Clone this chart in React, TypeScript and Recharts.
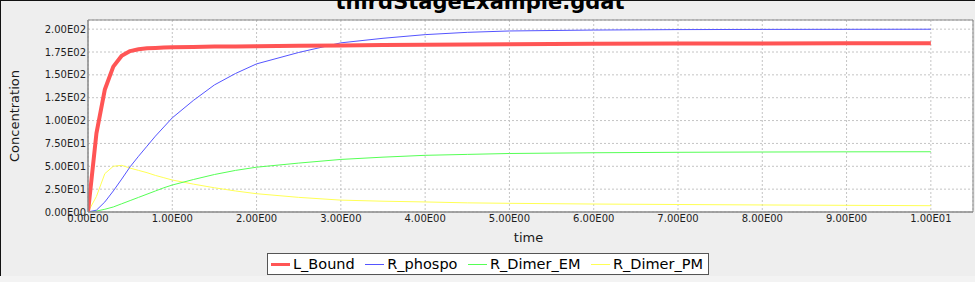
import React from 'react';
import { LineChart, Line, XAxis, YAxis, CartesianGrid, ReferenceLine } from 'recharts';

const time = [0, 0.1, 0.2, 0.3, 0.4, 0.5, 0.6, 0.7, 0.8, 0.9, 1.0, 1.25, 1.5, 1.75, 2, 2.5, 3, 3.5, 4, 4.5, 5, 6, 7, 8, 9, 10];
const lBound = [0, 86, 134, 159, 171, 176, 178, 179, 179.5, 180, 180.3, 180.6, 180.9, 181.1, 181.3, 181.8, 182.2, 182.6, 183, 183.2, 183.5, 183.9, 184.2, 184.4, 184.6, 184.7];
const rPhospo = [0, 2, 11, 23, 36, 49.5, 61, 72, 83, 93, 103, 122, 139, 151.5, 162, 174.5, 185, 190, 194, 196.5, 198, 199, 199.5, 199.7, 199.8, 199.9];
const rDimerEM = [0, 1, 3, 5.5, 9, 12.5, 16, 19.5, 23, 26.5, 29.5, 35.5, 41, 45.5, 49, 53.5, 57.5, 60, 62, 63, 64, 64.8, 65.3, 65.6, 65.8, 65.9];
const rDimerPM = [0, 17, 42, 50, 51, 48, 45.5, 43, 40, 37.5, 35, 30.5, 26.5, 23, 20, 16, 13, 11.8, 11, 10, 9.5, 8.7, 8.2, 7.7, 7.3, 6.9];

const xTicks = [0, 1, 2, 3, 4, 5, 6, 7, 8, 9, 10];
const xTickLabels = ['0.00E00', '1.00E00', '2.00E00', '3.00E00', '4.00E00', '5.00E00', '6.00E00', '7.00E00', '8.00E00', '9.00E00', '1.00E01'];
const yTicks = [0, 25, 50, 75, 100, 125, 150, 175, 200];
const yTickLabels = ['0.00E00', '2.50E01', '5.00E01', '7.50E01', '1.00E02', '1.25E02', '1.50E02', '1.75E02', '2.00E02'];

const seriesKeys = ['L_Bound', 'R_phospo', 'R_Dimer_EM', 'R_Dimer_PM'];
const seriesValues = [lBound, rPhospo, rDimerEM, rDimerPM];
const seriesColors = ['#ff5555', '#5555ff', '#55ff55', '#ffff55'];
const seriesWidths = [4, 1, 1, 1];

const titleText = 'thirdStageExample.gdat';
const xLabel = 'time';
const yLabel = 'Concentration';

const data = time.map((t, i) => {
  const row: Record<string, number> = { t };
  seriesKeys.forEach((k, j) => {
    row[k] = seriesValues[j][i];
  });
  return row;
});

const FONT = '"DejaVu Sans", Verdana, sans-serif';

const fmtX = (v: number) => {
  const i = xTicks.indexOf(v);
  return i >= 0 ? xTickLabels[i] : String(v);
};
const fmtY = (v: number) => {
  const i = yTicks.indexOf(v);
  return i >= 0 ? yTickLabels[i] : String(v);
};

const YLabel = (props: any) => {
  const vb = props && props.viewBox ? props.viewBox : { x: 0, y: 20, width: 88, height: 192 };
  const x = vb.x + 19;
  const y = vb.y + vb.height / 2;
  return (
    <text x={x} y={y} transform={`rotate(-90, ${x}, ${y})`} textAnchor="middle" fontFamily={FONT} fontSize={13} fill="#1a1a1a">
      {yLabel}
    </text>
  );
};

const XLabel = (props: any) => {
  const vb = props && props.viewBox ? props.viewBox : { x: 88, y: 212, width: 885, height: 70 };
  const x = vb.x + vb.width / 2 - 2;
  const y = vb.y + 29.5;
  return (
    <text x={x} y={y} textAnchor="middle" fontFamily={FONT} fontSize={13} fill="#1a1a1a">
      {xLabel}
    </text>
  );
};

export default function App() {
  const drawOrder = [3, 2, 1, 0];
  return (
    <div style={{ position: 'absolute', left: 0, top: 0, width: 975, height: 282, background: '#eeeeee', overflow: 'hidden' }}>
      <div style={{ position: 'absolute', left: 0, top: 0, width: 975, height: 1, background: '#111' }} />
      <div style={{ position: 'absolute', left: 0, top: 0, width: 1, height: 276, background: '#111' }} />
      <div style={{ position: 'absolute', left: 0, top: 276, width: 975, height: 6, background: '#f3f3f3' }} />
      <div style={{ position: 'absolute', left: 0, top: 0 }}>
        <LineChart width={975} height={282} data={data} margin={{ top: 20, right: 2, bottom: 0, left: 0 }}>
          <CartesianGrid stroke="#c4c4c4" strokeDasharray="2 2" fill="#ffffff" fillOpacity={1} />
          <XAxis
            dataKey="t"
            type="number"
            domain={[0, 10.5]}
            ticks={xTicks}
            interval={0}
            tickFormatter={fmtX}
            height={70}
            tickLine={false}
            tickSize={0}
            tickMargin={3}
            axisLine={{ stroke: '#888888', strokeWidth: 1.5 }}
            tick={{ fontFamily: FONT, fontSize: 10, fill: '#1e1e1e' }}
            label={XLabel}
            allowDataOverflow
          />
          <YAxis
            type="number"
            domain={[0, 210]}
            ticks={yTicks}
            interval={0}
            tickFormatter={fmtY}
            width={88}
            tickLine={false}
            tickSize={0}
            tickMargin={2}
            axisLine={{ stroke: '#888888', strokeWidth: 1.5 }}
            tick={{ fontFamily: FONT, fontSize: 10, fill: '#1e1e1e' }}
            label={YLabel}
            allowDataOverflow
          />
          <ReferenceLine y={210} stroke="#888888" strokeWidth={1} ifOverflow="extendDomain" />
          <ReferenceLine x={10.5} stroke="#888888" strokeWidth={1} ifOverflow="extendDomain" />
          {drawOrder.map((j) => (
            <Line
              key={seriesKeys[j]}
              type="linear"
              dataKey={seriesKeys[j]}
              stroke={seriesColors[j]}
              strokeWidth={seriesWidths[j]}
              strokeLinejoin="round"
              dot={false}
              activeDot={false}
              isAnimationActive={false}
            />
          ))}
        </LineChart>
      </div>
      <div
        style={{
          position: 'absolute',
          left: 0,
          top: -8,
          width: 960,
          textAlign: 'center',
          fontFamily: FONT,
          fontWeight: 'bold',
          fontSize: 21,
          lineHeight: '21px',
          color: '#000',
          whiteSpace: 'nowrap',
        }}
      >
        {titleText}
      </div>
      <div
        style={{
          position: 'absolute',
          left: 267,
          top: 253,
          width: 442,
          height: 22,
          boxSizing: 'border-box',
          border: '1px solid #555555',
          background: '#ffffff',
          display: 'flex',
          alignItems: 'center',
          paddingLeft: 3,
        }}
      >
        {seriesKeys.map((k, j) => (
          <div key={k} style={{ display: 'flex', alignItems: 'center', marginRight: 10.5 }}>
            <div style={{ width: 19, height: j === 0 ? 3 : 1, background: seriesColors[j], marginRight: 3 }} />
            <span style={{ fontFamily: FONT, fontSize: 14.5, lineHeight: '16px', color: '#000', whiteSpace: 'nowrap' }}>{k}</span>
          </div>
        ))}
      </div>
    </div>
  );
}
